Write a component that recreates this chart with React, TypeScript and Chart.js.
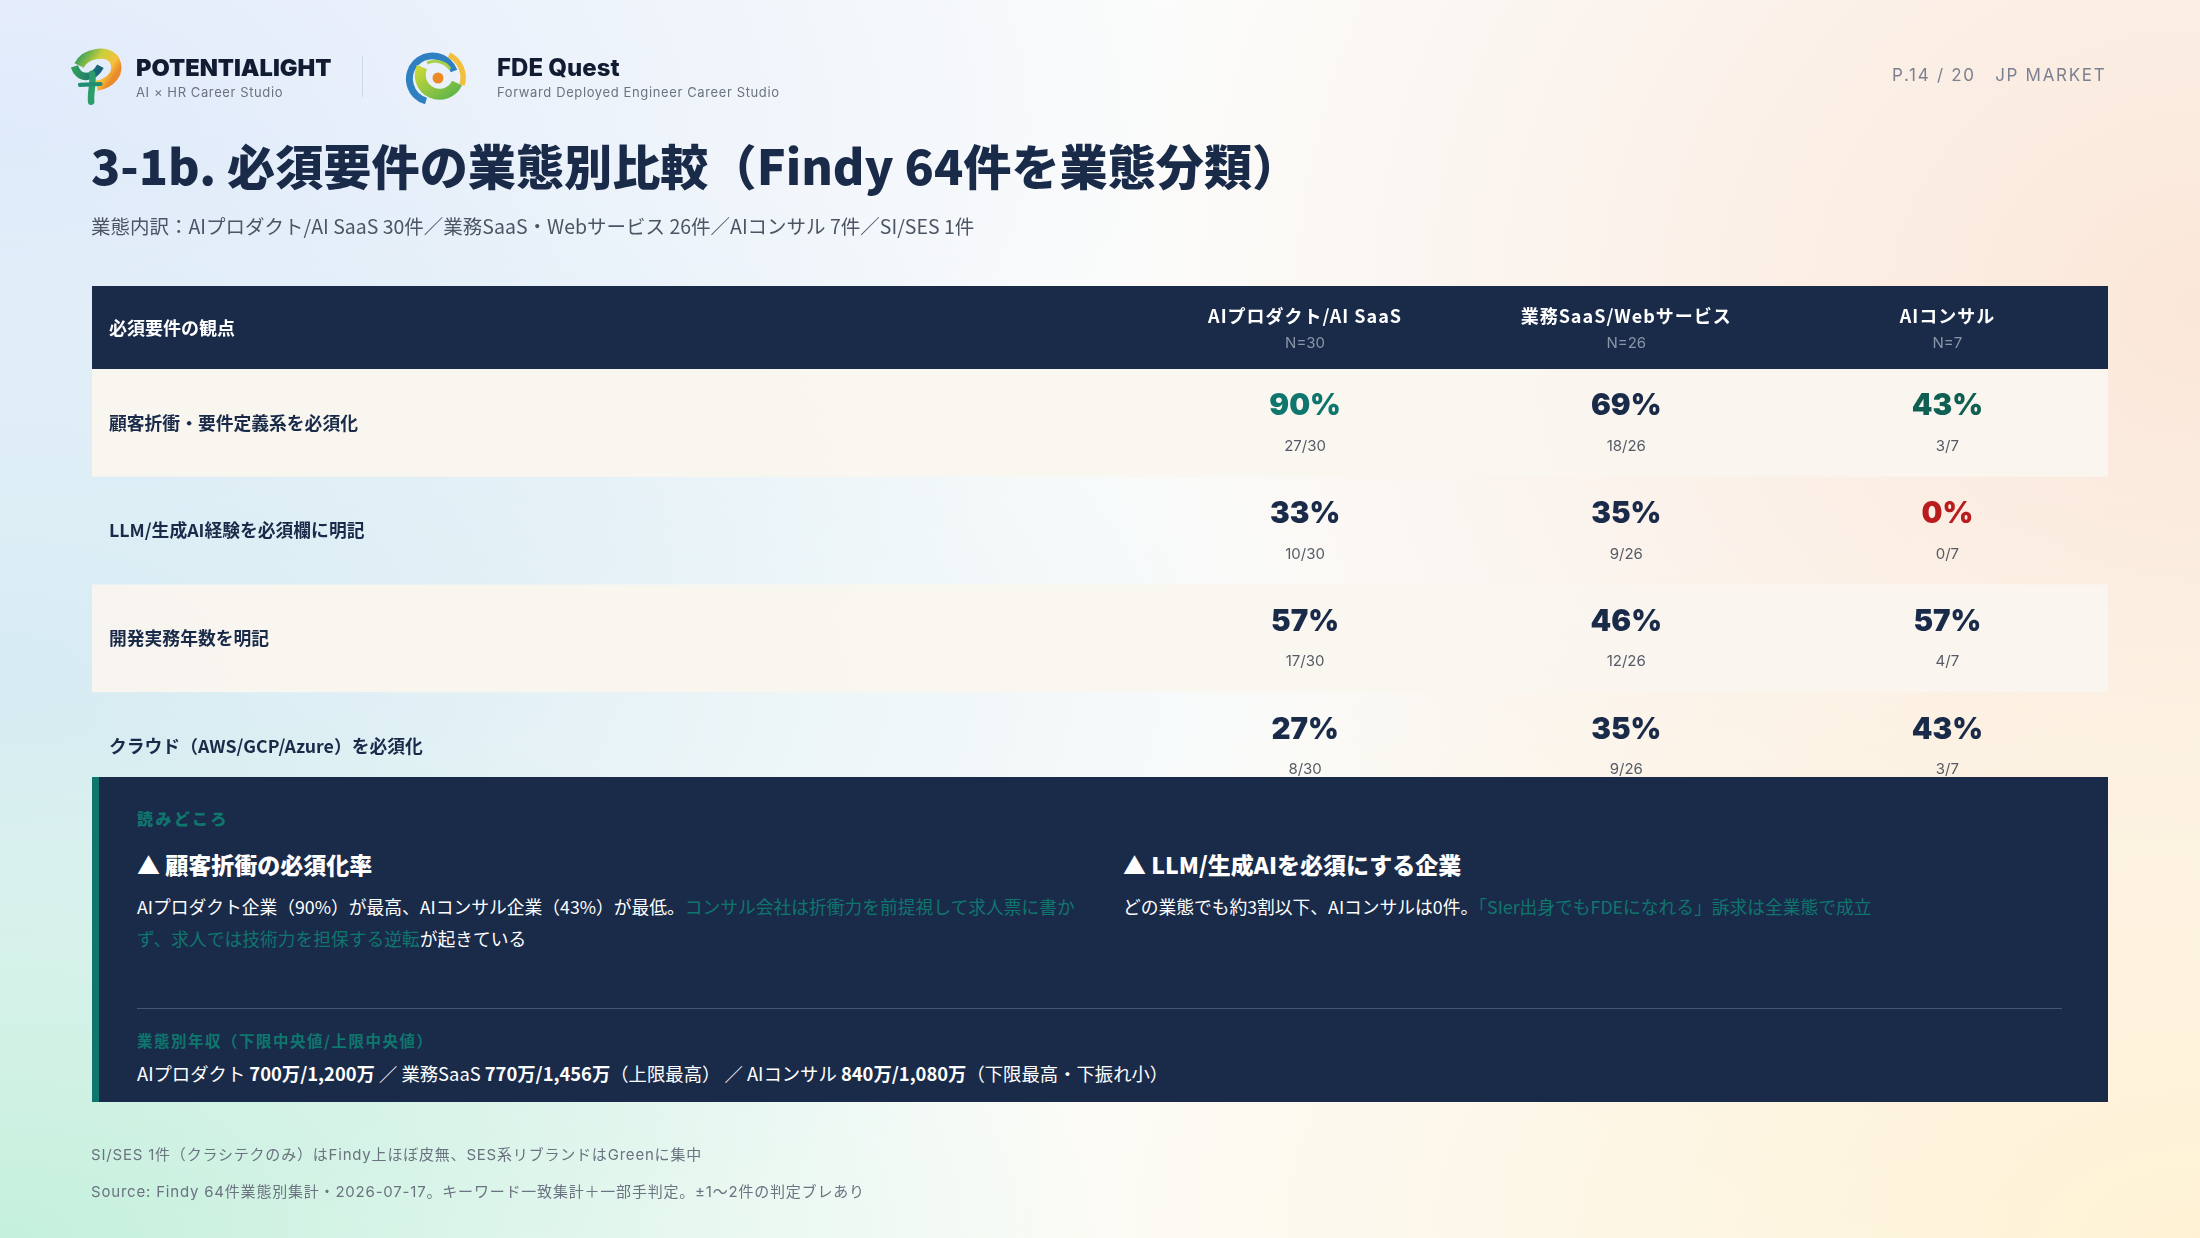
import { useEffect, useRef } from 'react';
import { Chart, registerables } from 'chart.js';

Chart.register(...registerables);

const JP = '"Noto Sans CJK JP", "Noto Sans", sans-serif';
const LATIN = 'Inter, "Noto Sans CJK JP", sans-serif';
const NAVY = '#1a2b4a';
const TEAL = '#0f766e';

const TABLE_LEFT = 92;

const columns = ['AIプロダクト/AI SaaS', '業務SaaS/Webサービス', 'AIコンサル'];
const columnCounts = ['N=30', 'N=26', 'N=7'];
const rows = [
  '顧客折衝・要件定義系を必須化',
  'LLM/生成AI経験を必須欄に明記',
  '開発実務年数を明記',
  'クラウド（AWS/GCP/Azure）を必須化',
];

const productPct = [90, 33, 57, 27];
const saasPct = [69, 35, 46, 35];
const consultPct = [43, 0, 57, 43];

const productHits = ['27/30', '10/30', '17/30', '8/30'];
const saasHits = ['18/26', '9/26', '12/26', '9/26'];
const consultHits = ['3/7', '0/7', '4/7', '3/7'];

const pctByColumn = [productPct, saasPct, consultPct];
const hitsByColumn = [productHits, saasHits, consultHits];

// highlighted cells, everything else stays navy
function pctColor(col: number, row: number) {
  if (col === 0 && row === 0) return TEAL;
  if (col === 2 && row === 0) return '#0f5f52';
  if (col === 2 && row === 1) return '#b91c1c';
  return NAVY;
}

const tablePlugin = {
  id: 'slideTable',
  beforeDraw(chart: any) {
    const { ctx } = chart;
    const x = chart.scales.x;
    const y = chart.scales.y;
    const band = y.getPixelForValue(1) - y.getPixelForValue(0);

    ctx.save();
    ctx.fillStyle = NAVY;
    ctx.fillRect(TABLE_LEFT, x.top, x.right - TABLE_LEFT, x.bottom - x.top);

    ctx.fillStyle = 'rgba(250,246,239,0.95)';
    rows.forEach((_, i) => {
      if (i % 2 === 1) return;
      ctx.fillRect(TABLE_LEFT, y.getPixelForValue(i) - band / 2, x.right - TABLE_LEFT, band);
    });

    ctx.fillStyle = '#ffffff';
    ctx.textBaseline = 'middle';
    ctx.font = `700 18px ${JP}`;
    ctx.fillText('必須要件の観点', 109, 328);

    ctx.textAlign = 'center';
    ctx.fillStyle = '#8b95a8';
    ctx.font = `400 15px ${LATIN}`;
    columnCounts.forEach((label, i) => {
      ctx.fillText(label, x.getPixelForValue(i), 343);
    });
    ctx.restore();
  },
  afterDatasetsDraw(chart: any) {
    const { ctx } = chart;
    ctx.save();
    ctx.textAlign = 'center';
    ctx.textBaseline = 'middle';
    chart.data.datasets.forEach((ds: any, col: number) => {
      chart.getDatasetMeta(col).data.forEach((pt: any, row: number) => {
        ctx.fillStyle = pctColor(col, row);
        ctx.font = `900 29.5px ${LATIN}`;
        ctx.fillText(`${pctByColumn[col][row]}%`, pt.x, pt.y - 16.5);
        ctx.fillStyle = '#555b66';
        ctx.font = `400 15px ${LATIN}`;
        ctx.fillText(hitsByColumn[col][row], pt.x, pt.y + 23.5);
      });
    });
    ctx.restore();
    // the column headings draw after this hook and carry some tracking
    ctx.letterSpacing = '1px';
  },
  afterDraw(chart: any) {
    chart.ctx.letterSpacing = '0px';
  },
};

function Logos() {
  return (
    <>
      <svg style={{ position: 'absolute', left: 67, top: 45 }} width={65} height={65} viewBox="0 0 70 70">
        <defs>
          <linearGradient id="pl" x1="0" y1="0" x2="1" y2="0.6">
            <stop offset="0" stopColor="#2f9e5b" />
            <stop offset="0.45" stopColor="#c9cf3a" />
            <stop offset="0.8" stopColor="#f5c23c" />
            <stop offset="1" stopColor="#ea8a2a" />
          </linearGradient>
          <linearGradient id="ps" x1="0" y1="0" x2="1" y2="0">
            <stop offset="0" stopColor="#2f9e5b" />
            <stop offset="1" stopColor="#17607a" />
          </linearGradient>
        </defs>
        <path d="M13 22 C20 8 44 5 51 16 C58 30 47 41 32 44" fill="none" stroke="url(#pl)" strokeWidth="11" />
        <path d="M8 23 C12 37 28 38 36 23" fill="none" stroke="url(#ps)" strokeWidth="8" />
        <path d="M27 31 C29 40 25 50 26 61" fill="none" stroke="#2a9d6a" strokeWidth="7" strokeLinecap="round" />
        <path d="M14 43 L36 42" fill="none" stroke="#1f8f74" strokeWidth="4.5" strokeLinecap="round" />
      </svg>
      <svg style={{ position: 'absolute', left: 400, top: 45 }} width={76} height={66} viewBox="0 0 76 66">
        <defs>
          <linearGradient id="fq" x1="0" y1="0" x2="1" y2="1">
            <stop offset="0" stopColor="#c8d83a" />
            <stop offset="1" stopColor="#5fb548" />
          </linearGradient>
        </defs>
        <path d="M49 10 A25 25 0 0 1 62 40" fill="none" stroke="#f2bf3c" strokeWidth="5.5" />
        <path d="M26 56 A23 23 0 1 1 54 26" fill="none" stroke="#2f80c0" strokeWidth="7" />
        <path d="M22 22 A19 19 0 1 0 57 38" fill="none" stroke="url(#fq)" strokeWidth="11" />
        <path d="M27 18 A17 14 0 0 1 50 24" fill="none" stroke="#a9d24a" strokeWidth="3" />
        <circle cx="38" cy="33" r="5.5" fill="#ee8a24" />
      </svg>
    </>
  );
}

const abs = (left: number, centerY: number, extra: any = {}) => ({
  position: 'absolute' as const,
  left,
  top: centerY,
  transform: 'translateY(-50%)',
  whiteSpace: 'nowrap' as const,
  ...extra,
});

export default function App() {
  const canvasRef = useRef<HTMLCanvasElement>(null);

  useEffect(() => {
    if (!canvasRef.current) return;
    const chart = new Chart(canvasRef.current, {
      type: 'line',
      data: {
        datasets: pctByColumn.map((values, col) => ({
          label: columns[col],
          data: values.map((_, row) => ({ x: columns[col], y: rows[row] })),
          showLine: false,
          pointRadius: 0,
        })),
      } as any,
      options: {
        responsive: false,
        animation: false,
        devicePixelRatio: 1,
        layout: { padding: { left: 109, right: 92, top: 286, bottom: 438 } },
        plugins: { legend: { display: false }, tooltip: { enabled: false } },
        scales: {
          x: {
            type: 'category',
            labels: columns,
            position: 'top',
            offset: true,
            afterFit: (s: any) => { s.height = 83; },
            grid: { display: false, drawTicks: false },
            border: { display: false },
            ticks: {
              z: 1,
              autoSkip: false,
              maxRotation: 0,
              padding: 42,
              color: '#ffffff',
              font: { family: JP, size: 18, weight: '700' },
            },
          },
          y: {
            type: 'category',
            labels: rows,
            offset: true,
            afterFit: (s: any) => { s.width = 1035.5; },
            grid: { display: false, drawTicks: false },
            border: { display: false },
            ticks: {
              autoSkip: false,
              crossAlign: 'far',
              color: NAVY,
              font: { family: JP, size: 17.8, weight: '700' },
            },
          },
        },
      } as any,
      plugins: [tablePlugin],
    });
    return () => chart.destroy();
  }, []);

  const grey = '#6b7280';

  return (
    <div
      style={{
        position: 'fixed',
        left: 0,
        top: 0,
        width: 2200,
        height: 1238,
        overflow: 'hidden',
        fontFamily: JP,
        background: `radial-gradient(ellipse 50% 45% at 0% 100%, #c4f0dc 0%, rgba(196,240,220,0) 100%),
          radial-gradient(ellipse 60% 60% at 100% 100%, #fff2d4 0%, rgba(255,242,212,0) 100%),
          radial-gradient(ellipse 50% 80% at 100% 25%, #fbe7d9 0%, rgba(251,231,217,0) 100%),
          radial-gradient(ellipse 60% 50% at 0% 55%, #d6ebf3 0%, rgba(214,235,243,0) 100%),
          radial-gradient(ellipse 55% 55% at 0% 10%, #e0eafb 0%, rgba(224,234,251,0) 100%),
          #fbfcfb`,
      }}
    >
      <canvas ref={canvasRef} width={2200} height={1238} style={{ position: 'absolute', left: 0, top: 0, display: 'block' }} />

      <Logos />
      <div style={abs(136, 67, { fontFamily: LATIN, fontWeight: 900, fontSize: 23.6, color: '#111c33' })}>POTENTIALIGHT</div>
      <div style={abs(136, 92, { fontFamily: LATIN, fontSize: 13, letterSpacing: 0.6, color: grey })}>AI × HR Career Studio</div>
      <div style={{ position: 'absolute', left: 362, top: 56, width: 1, height: 41, background: 'rgba(26,43,74,0.12)' }} />
      <div style={abs(497, 67, { fontFamily: LATIN, fontWeight: 800, fontSize: 24, color: '#111c33' })}>FDE Quest</div>
      <div style={abs(497, 92, { fontFamily: LATIN, fontSize: 13, letterSpacing: 0.62, color: grey })}>Forward Deployed Engineer Career Studio</div>
      <div style={abs(1892, 75, { fontFamily: LATIN, fontSize: 17, letterSpacing: 1.7, color: '#7b8190' })}>P.14 / 20 &nbsp; JP MARKET</div>

      <div style={abs(91, 163.5, { fontWeight: 900, fontSize: 48.15, color: NAVY })}>3-1b. 必須要件の業態別比較（Findy 64件を業態分類）</div>
      <div style={abs(91, 225, { fontSize: 19.5, color: '#4b5563' })}>業態内訳：AIプロダクト/AI SaaS 30件／業務SaaS・Webサービス 26件／AIコンサル 7件／SI/SES 1件</div>

      <div style={{ position: 'absolute', left: 92, top: 777, width: 2016, height: 325, background: NAVY, borderLeft: `7px solid ${TEAL}`, boxSizing: 'border-box' }} />
      <div style={abs(137, 817.5, { fontWeight: 900, fontSize: 16, letterSpacing: 2.5, color: TEAL })}>読みどころ</div>
      <div style={abs(137, 863.5, { fontWeight: 900, fontSize: 23, color: '#fff' })}>▲ 顧客折衝の必須化率</div>
      <div style={abs(137, 905.5, { fontSize: 17.75, color: '#fff' })}>
        AIプロダクト企業（90%）が最高、AIコンサル企業（43%）が最低。<span style={{ color: TEAL }}>コンサル会社は折衝力を前提視して求人票に書か</span>
      </div>
      <div style={abs(137, 937.5, { fontSize: 17.75, color: '#fff' })}>
        <span style={{ color: TEAL }}>ず、求人では技術力を担保する逆転</span>が起きている
      </div>
      <div style={abs(1123, 863.5, { fontWeight: 900, fontSize: 23, color: '#fff' })}>▲ LLM/生成AIを必須にする企業</div>
      <div style={abs(1123, 905.5, { fontSize: 17.75, color: '#fff' })}>
        どの業態でも約3割以下、AIコンサルは0件。<span style={{ color: TEAL }}>「SIer出身でもFDEになれる」訴求は全業態で成立</span>
      </div>
      <div style={{ position: 'absolute', left: 137, top: 1008, width: 1925, height: 1, background: 'rgba(255,255,255,0.2)' }} />
      <div style={abs(137, 1040, { fontWeight: 700, fontSize: 15.5, letterSpacing: 1.5, color: TEAL })}>業態別年収（下限中央値/上限中央値）</div>
      <div style={abs(137, 1073, { fontSize: 18.35, color: '#fff' })}>
        AIプロダクト <b>700万/1,200万</b> ／ 業務SaaS <b>770万/1,456万</b>（上限最高） ／ AIコンサル <b>840万/1,080万</b>（下限最高・下振れ小）
      </div>

      <div style={abs(91, 1153, { fontFamily: LATIN, fontSize: 15, letterSpacing: 0.8, color: grey })}>SI/SES 1件（クラシテクのみ）はFindy上ほぼ皮無、SES系リブランドはGreenに集中</div>
      <div style={abs(91, 1190, { fontFamily: LATIN, fontSize: 15, letterSpacing: 0.8, color: grey })}>Source: Findy 64件業態別集計・2026-07-17。キーワード一致集計＋一部手判定。±1〜2件の判定ブレあり</div>
    </div>
  );
}
